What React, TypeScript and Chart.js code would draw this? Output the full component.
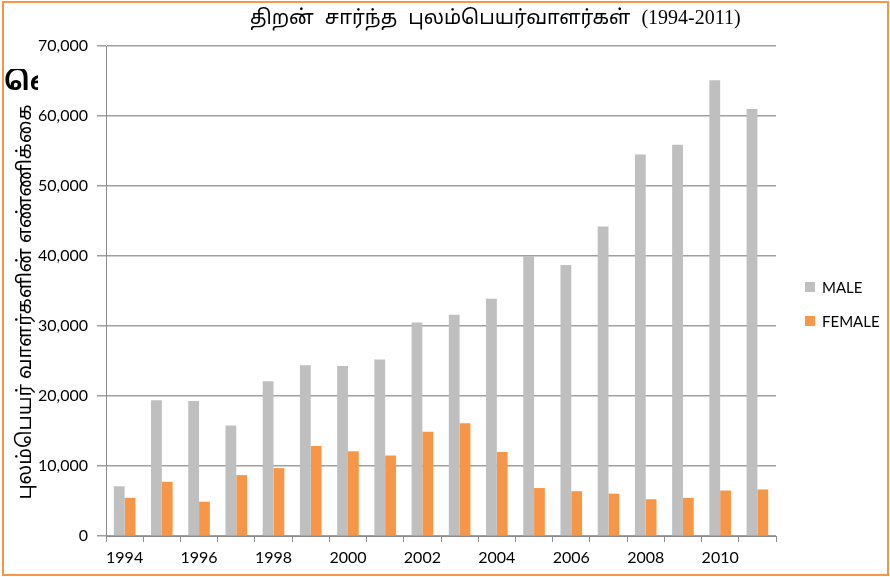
import React, { useEffect, useRef } from "react";
import { Chart, registerables } from "chart.js";
Chart.register(...registerables);

const years = ["1994","1995","1996","1997","1998","1999","2000","2001","2002","2003","2004","2005","2006","2007","2008","2009","2010","2011"];
const male = [7100, 19400, 19300, 15800, 22100, 24400, 24300, 25200, 30500, 31600, 33900, 40000, 38700, 44200, 54500, 55900, 65100, 61000];
const female = [5450, 7750, 4900, 8700, 9700, 12850, 12100, 11500, 14900, 16100, 12000, 6850, 6400, 6050, 5250, 5450, 6500, 6650];
const seriesNames = ["MALE", "FEMALE"];
const seriesColors = ["#bfbfbf", "#f79646"];
const chartTitle = "திறன் சார்ந்த புலம்பெயர்வாளர்கள் (1994-2011)";
const yTitle = "புலம்பெயர் வாளர்களின் எண்ணிக்கை";
const cornerText = "வெளி";

const TAMIL = "'Noto Sans Tamil', 'Lohit Tamil', 'Noto Serif Tamil', 'Latha', sans-serif";
const TICKFONT = "Lato, 'Open Sans', sans-serif";

export default function App() {
  const ref = useRef<HTMLCanvasElement | null>(null);
  useEffect(() => {
    if (!ref.current) return;
    const chart = new Chart(ref.current, {
      type: "bar",
      data: {
        labels: years,
        datasets: [
          { label: seriesNames[0], data: male, backgroundColor: seriesColors[0], categoryPercentage: 0.58, barPercentage: 1 },
          { label: seriesNames[1], data: female, backgroundColor: seriesColors[1], categoryPercentage: 0.58, barPercentage: 1 },
        ],
      },
      options: {
        animation: false,
        responsive: false,
        layout: { padding: { left: 12, right: 114, top: 46, bottom: 0 } },
        plugins: { legend: { display: false }, title: { display: false }, tooltip: { enabled: false } },
        scales: {
          x: {
            grid: { display: true, drawOnChartArea: false, drawTicks: true, tickLength: 6, color: "#8c8c8c", offset: true },
            border: { display: true, color: "#8c8c8c", width: 1 },
            ticks: {
              autoSkip: false,
              maxRotation: 0,
              padding: 6,
              color: "#000",
              font: { family: TICKFONT, size: 16 },
              callback: (v: any, i: number) => (i % 2 === 0 ? years[i] : ""),
            },
            afterFit: (axis: any) => { axis.height = 41; },
          },
          y: {
            min: 0,
            max: 70000,
            ticks: {
              stepSize: 10000,
              padding: 9,
              color: "#000",
              font: { family: TICKFONT, size: 16 },
              callback: (v: any) => Number(v).toLocaleString("en-US"),
            },
            grid: { color: "#a0a0a0", lineWidth: 1.5, tickLength: 9 },
            border: { display: true, color: "#8c8c8c", width: 1 },
            title: { display: false, text: yTitle },
            afterFit: (axis: any) => { axis.width = 94; },
          },
        },
      },
    });
    return () => chart.destroy();
  }, []);

  return (
    <div style={{ position: "absolute", left: 0, top: 0, width: 890, height: 577, background: "#fff", overflow: "hidden" }}>
      <canvas ref={ref} width={890} height={577} style={{ position: "absolute", left: 0, top: 0, width: 890, height: 577 }} />
      <div style={{ position: "absolute", left: 250, top: 6, width: 490, textAlign: "center", fontFamily: "'Liberation Serif', " + TAMIL, fontSize: 20, wordSpacing: 6, color: "#000", whiteSpace: "nowrap" }}>
        {chartTitle}
      </div>
      <div style={{ position: "absolute", left: 26, top: 302, width: 0, height: 0 }}>
        <div style={{ position: "absolute", left: 0, top: 0, transform: "translate(-50%, -50%) rotate(-90deg)", fontFamily: TAMIL, fontSize: 19.5, color: "#000", whiteSpace: "nowrap", lineHeight: "24px" }}>
          {yTitle}
        </div>
      </div>
      <div style={{ position: "absolute", left: 4, top: 69, width: 34, overflow: "hidden", fontFamily: TAMIL, fontWeight: "bold", fontSize: 26, color: "#000", whiteSpace: "nowrap", lineHeight: "30px" }}>
        {cornerText}
      </div>
      {seriesNames.map((n, i) => (
        <div key={n} style={{ position: "absolute", left: 805, top: 278 + i * 34, height: 18, display: "flex", alignItems: "center", fontFamily: TICKFONT, fontSize: 15, color: "#000" }}>
          <span style={{ display: "inline-block", width: 10, height: 10, background: seriesColors[i], marginRight: 7 }} />
          {n}
        </div>
      ))}
      <div style={{ position: "absolute", left: 2, top: 1, width: 887, height: 575, boxSizing: "border-box", border: "2px solid #f79646", pointerEvents: "none" }} />
    </div>
  );
}
